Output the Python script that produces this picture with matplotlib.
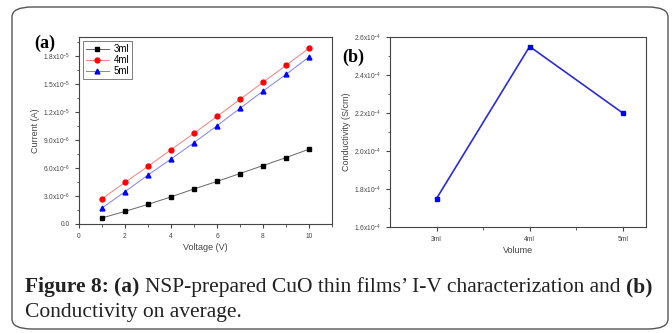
import matplotlib
matplotlib.use('Agg')
import matplotlib.pyplot as plt
from matplotlib.patches import FancyBboxPatch
from matplotlib.ticker import FixedLocator, MultipleLocator

# Panel (a): I-V data (current in units of 1e-5 A)
voltage = [1, 2, 3, 4, 5, 6, 7, 8, 9, 10]
current_3ml = [0.065, 0.135, 0.21, 0.29, 0.375, 0.455, 0.54, 0.625, 0.71, 0.80]
current_4ml = [0.27, 0.445, 0.617, 0.795, 0.97, 1.15, 1.333, 1.515, 1.697, 1.88]
current_5ml = [0.171, 0.346, 0.524, 0.695, 0.87, 1.051, 1.237, 1.422, 1.60, 1.786]
series_labels = ['3ml', '4ml', '5ml']

# Panel (b): average conductivity (units of 1e-4 S/cm)
volumes = ['3ml', '4ml', '5ml']
conductivity = [1.75, 2.55, 2.20]

a_yticks = [0.0, 0.3, 0.6, 0.9, 1.2, 1.5, 1.8]
a_yticklabels = ['0.0', r'3.0x10$^{-6}$', r'6.0x10$^{-6}$', r'9.0x10$^{-6}$',
                 r'1.2x10$^{-5}$', r'1.5x10$^{-5}$', r'1.8x10$^{-5}$']
b_yticks = [1.6, 1.8, 2.0, 2.2, 2.4, 2.6]
b_yticklabels = [r'1.6x10$^{-4}$', r'1.8x10$^{-4}$', r'2.0x10$^{-4}$',
                 r'2.2x10$^{-4}$', r'2.4x10$^{-4}$', r'2.6x10$^{-4}$']

plt.rcParams['font.family'] = ['Liberation Sans', 'DejaVu Sans']
plt.rcParams['mathtext.fontset'] = 'custom'
plt.rcParams['mathtext.rm'] = 'Liberation Sans'
plt.rcParams['mathtext.it'] = 'Liberation Sans'

W, H = 672, 333
fig = plt.figure(figsize=(W / 100, H / 100), dpi=100)
fig.patch.set_facecolor('white')

# rounded frame around the whole figure
frame = FancyBboxPatch((12 / W, 4 / H), 656 / W, 322 / H,
                       boxstyle='round,pad=0,rounding_size=0.03',
                       transform=fig.transFigure, facecolor='none',
                       edgecolor='#555555', linewidth=1.0, zorder=-1)
fig.patches.append(frame)

def px_axes(left, top, right, bottom):
    return fig.add_axes([left / W, (H - bottom) / H, (right - left) / W, (bottom - top) / H])

def style_axes(ax):
    for s in ax.spines.values():
        s.set_color('#444444')
        s.set_linewidth(0.8)
    ax.tick_params(which='both', direction='out', labelsize=4.8, colors='#444444',
                   top=False, right=False)
    ax.tick_params(which='major', length=3)
    ax.tick_params(which='minor', length=1.8)

# ---- panel (a)
ax1 = px_axes(79, 37, 332, 224)
ax1.plot(voltage, current_3ml, color='#666666', lw=0.7, marker='s', ms=3.2,
         mfc='black', mec='black', label=series_labels[0])
ax1.plot(voltage, current_4ml, color='#f08080', lw=0.7, marker='o', ms=3.5,
         mfc='red', mec='red', label=series_labels[1])
ax1.plot(voltage, current_5ml, color='#8080f0', lw=0.7, marker='^', ms=3.5,
         mfc='blue', mec='blue', label=series_labels[2])
ax1.set_xlim(0, 11)
ax1.set_ylim(0, 2.0)
ax1.set_xticks([0, 2, 4, 6, 8, 10])
ax1.xaxis.set_minor_locator(MultipleLocator(1))
ax1.set_yticks(a_yticks)
ax1.set_yticklabels(a_yticklabels)
ax1.yaxis.set_minor_locator(MultipleLocator(0.15))
ax1.set_xlabel('Voltage (V)', fontsize=6.5, color='#444444', labelpad=2)
ax1.set_ylabel('Current (A)', fontsize=6.5, color='#444444', labelpad=2)
style_axes(ax1)
leg = ax1.legend(loc='upper left', fontsize=7, frameon=True, fancybox=False,
                 handlelength=2.3, borderpad=0.3, labelspacing=0.1,
                 handletextpad=0.5, borderaxespad=0.45)
leg.get_frame().set_edgecolor('#444444')
leg.get_frame().set_linewidth(0.6)

# ---- panel (b)
ax2 = px_axes(390, 37, 646, 227)
xpos = list(range(1, len(volumes) + 1))
ax2.plot(xpos, conductivity, color='#2b2bd6', lw=1.2, marker='s', ms=3.2,
         mfc='blue', mec='blue')
ax2.set_xlim(0.5, 3.25)
ax2.set_ylim(1.6, 2.6)
ax2.set_xticks(xpos)
ax2.set_xticklabels(volumes)
ax2.xaxis.set_minor_locator(FixedLocator([1.5, 2.5]))
ax2.set_yticks(b_yticks)
ax2.set_yticklabels(b_yticklabels)
ax2.yaxis.set_minor_locator(MultipleLocator(0.1))
ax2.set_xlabel('Volume', fontsize=6.5, color='#444444', labelpad=2)
ax2.set_ylabel('Conductivity (S/cm)', fontsize=6.5, color='#444444', labelpad=2)
style_axes(ax2)

# panel letters
fig.text(34 / W, 1 - 43 / H, '(a)', fontsize=13, fontweight='bold',
         family='Liberation Serif', ha='left', va='center')
fig.text(342 / W, 1 - 57 / H, '(b)', fontsize=13, fontweight='bold',
         family='Liberation Serif', ha='left', va='center')

# caption, mixed bold / regular runs placed one after another
cap_y1 = 1 - 287 / H
cap_y2 = 1 - 312 / H
parts = [("Figure 8: ", 'bold'), ("(a) ", 'bold'),
         ("NSP-prepared CuO thin films\u2019 I-V characterization and ", 'normal'),
         ("(b)", 'bold')]
renderer = fig.canvas.get_renderer()
x = 25
for txt, wt in parts:
    t = fig.text(x / W, cap_y1, txt, fontsize=15.5, fontweight=wt,
                 family='Liberation Serif', ha='left', va='center', color='#222222')
    x += t.get_window_extent(renderer=renderer).width
fig.text(25 / W, cap_y2, "Conductivity on average.", fontsize=15.5,
         family='Liberation Serif', ha='left', va='center', color='#222222')

fig.savefig('out.png', dpi=100)
